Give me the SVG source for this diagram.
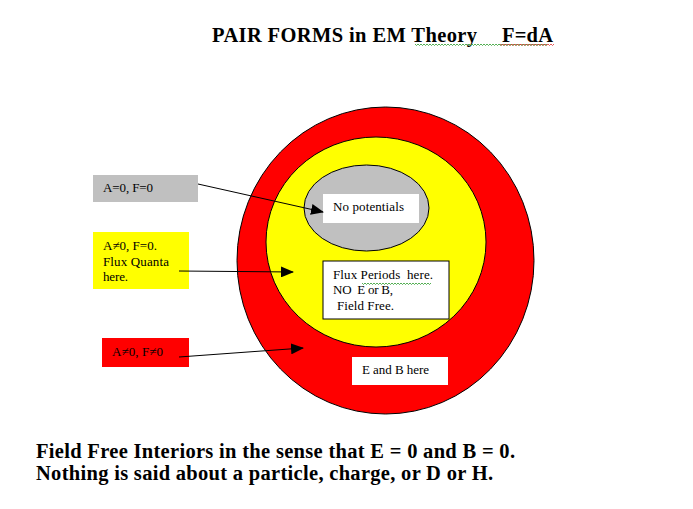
<svg xmlns="http://www.w3.org/2000/svg" width="693" height="509" viewBox="0 0 693 509">
<style>
.t{font-family:"Liberation Serif","Times New Roman",serif;fill:#000;white-space:pre}
.s{font-size:13px}
.b{font-size:20.5px;font-weight:bold}
.ln{stroke:#000;stroke-width:1;fill:none}
.ol{stroke:#000;stroke-width:1}
.sq{fill:none;stroke-width:0.8}
</style>
<defs>
<marker id="ah" markerWidth="13" markerHeight="11" refX="12" refY="5.5" orient="auto" markerUnits="userSpaceOnUse">
<path d="M0,0 L13,5.5 L0,11 Z" fill="#000"/>
</marker>
</defs>
<rect width="693" height="509" fill="#fff"/>
<g id="title">
<text class="t b" x="212" y="42" textLength="265">PAIR FORMS in EM Theory</text>
<text class="t b" x="502" y="42" textLength="51">F=dA</text>
<path class="sq" stroke="#2a9a2a" d="M415,44 l1.5,1.5 l1.5,-1.5 l1.5,1.5 l1.5,-1.5 l1.5,1.5 l1.5,-1.5 l1.5,1.5 l1.5,-1.5 l1.5,1.5 l1.5,-1.5 l1.5,1.5 l1.5,-1.5 l1.5,1.5 l1.5,-1.5 l1.5,1.5 l1.5,-1.5 l1.5,1.5 l1.5,-1.5 l1.5,1.5 l1.5,-1.5 l1.5,1.5 l1.5,-1.5 l1.5,1.5 l1.5,-1.5 l1.5,1.5 l1.5,-1.5 l1.5,1.5 l1.5,-1.5 l1.5,1.5 l1.5,-1.5 l1.5,1.5 l1.5,-1.5 l1.5,1.5 l1.5,-1.5 l1.5,1.5 l1.5,-1.5 l1.5,1.5 l1.5,-1.5 l1.5,1.5 l1.5,-1.5 l1.5,1.5 l1.5,-1.5 l1.5,1.5 l1.5,-1.5 l1.5,1.5 l1.5,-1.5 l1.5,1.5 l1.5,-1.5 l1.5,1.5 l1.5,-1.5 l1.5,1.5 l1.5,-1.5 l1.5,1.5 l1.5,-1.5 l1.5,1.5 l1.5,-1.5 l1.5,1.5 l1.5,-1.5 l1.5,1.5 l1.5,-1.5 l1.5,1.5 l1.5,-1.5 l1.5,1.5 l1.5,-1.5 l1.5,1.5 l1.5,-1.5 l1.5,1.5 l1.5,-1.5 l1.5,1.5 l1.5,-1.5 l1.5,1.5 l1.5,-1.5 l1.5,1.5 l1.5,-1.5 l1.5,1.5 l1.5,-1.5 l1.5,1.5 l1.5,-1.5 l1.5,1.5 l1.5,-1.5 l1.5,1.5 l1.5,-1.5 l1.5,1.5 l1.5,-1.5 l1.5,1.5 l1.5,-1.5 l1.5,1.5 l1.5,-1.5"/>
<path class="sq" stroke="#e03030" d="M500,44 l1.5,1.5 l1.5,-1.5 l1.5,1.5 l1.5,-1.5 l1.5,1.5 l1.5,-1.5 l1.5,1.5 l1.5,-1.5 l1.5,1.5 l1.5,-1.5 l1.5,1.5 l1.5,-1.5 l1.5,1.5 l1.5,-1.5 l1.5,1.5 l1.5,-1.5 l1.5,1.5 l1.5,-1.5 l1.5,1.5 l1.5,-1.5 l1.5,1.5 l1.5,-1.5 l1.5,1.5 l1.5,-1.5 l1.5,1.5 l1.5,-1.5 l1.5,1.5 l1.5,-1.5 l1.5,1.5 l1.5,-1.5 l1.5,1.5 l1.5,-1.5 l1.5,1.5 l1.5,-1.5 l1.5,1.5 l1.5,-1.5"/>
</g>
<g id="outer-red">
<ellipse class="ol" cx="385.5" cy="260.5" rx="148.5" ry="153.5" fill="#ff0000"/>
</g>
<g id="middle-yellow">
<ellipse class="ol" cx="376" cy="242" rx="110" ry="105" fill="#ffff00"/>
</g>
<g id="inner-gray">
<ellipse class="ol" cx="366.5" cy="208" rx="62.5" ry="43" fill="#c0c0c0"/>
</g>
<g id="no-potentials">
<rect x="323" y="194" width="96" height="29" fill="#fff"/>
<text class="t s" x="333" y="211" textLength="71">No potentials</text>
</g>
<g id="flux-periods">
<rect x="323" y="261" width="126" height="58" fill="#fff" stroke="#000" stroke-width="1"/>
<text class="t s" x="333" y="279" textLength="100">Flux Periods  here.</text>
<text class="t s" x="333" y="294" textLength="60">NO  E or B,</text>
<text class="t s" x="337" y="310" textLength="57">Field Free.</text>
<path class="sq" stroke="#2a9a2a" d="M362,283 l1.5,1.5 l1.5,-1.5 l1.5,1.5 l1.5,-1.5 l1.5,1.5 l1.5,-1.5 l1.5,1.5 l1.5,-1.5 l1.5,1.5 l1.5,-1.5 l1.5,1.5 l1.5,-1.5 l1.5,1.5 l1.5,-1.5 l1.5,1.5 l1.5,-1.5 l1.5,1.5 l1.5,-1.5 l1.5,1.5 l1.5,-1.5 l1.5,1.5 l1.5,-1.5 l1.5,1.5 l1.5,-1.5 l1.5,1.5 l1.5,-1.5 l1.5,1.5 l1.5,-1.5 l1.5,1.5 l1.5,-1.5 l1.5,1.5 l1.5,-1.5 l1.5,1.5 l1.5,-1.5 l1.5,1.5 l1.5,-1.5 l1.5,1.5 l1.5,-1.5 l1.5,1.5 l1.5,-1.5 l1.5,1.5 l1.5,-1.5 l1.5,1.5 l1.5,-1.5 l1.5,1.5 l1.5,-1.5"/>
</g>
<g id="e-and-b">
<rect x="352" y="357" width="96" height="28" fill="#fff"/>
<text class="t s" x="362" y="374" textLength="67">E and B here</text>
</g>
<g id="label-gray">
<rect x="93" y="175" width="105" height="27" fill="#c0c0c0"/>
<text class="t s" x="103" y="192" textLength="50">A=0, F=0</text>
</g>
<g id="label-yellow">
<rect x="93" y="232" width="96" height="57" fill="#ffff00"/>
<text class="t s" x="103" y="250" textLength="54">A≠0, F=0.</text>
<text class="t s" x="103" y="266" textLength="66">Flux Quanta</text>
<text class="t s" x="103" y="281" textLength="25">here.</text>
</g>
<g id="label-red">
<rect x="102" y="338" width="87" height="29" fill="#ff0000"/>
<text class="t s" x="112" y="356" textLength="51" fill="#300000">A≠0, F≠0</text>
</g>
<g id="connectors">
<line class="ln" x1="198" y1="184" x2="323" y2="212" marker-end="url(#ah)"/>
<line class="ln" x1="179" y1="271" x2="293" y2="272" marker-end="url(#ah)"/>
<line class="ln" x1="179" y1="357" x2="303" y2="348" marker-end="url(#ah)"/>
</g>
<g id="caption">
<text class="t b" x="36" y="458" textLength="479">Field Free Interiors in the sense that E = 0 and B = 0.</text>
<text class="t b" x="36" y="480" textLength="457">Nothing is said about a particle, charge, or D or H.</text>
</g>
</svg>
